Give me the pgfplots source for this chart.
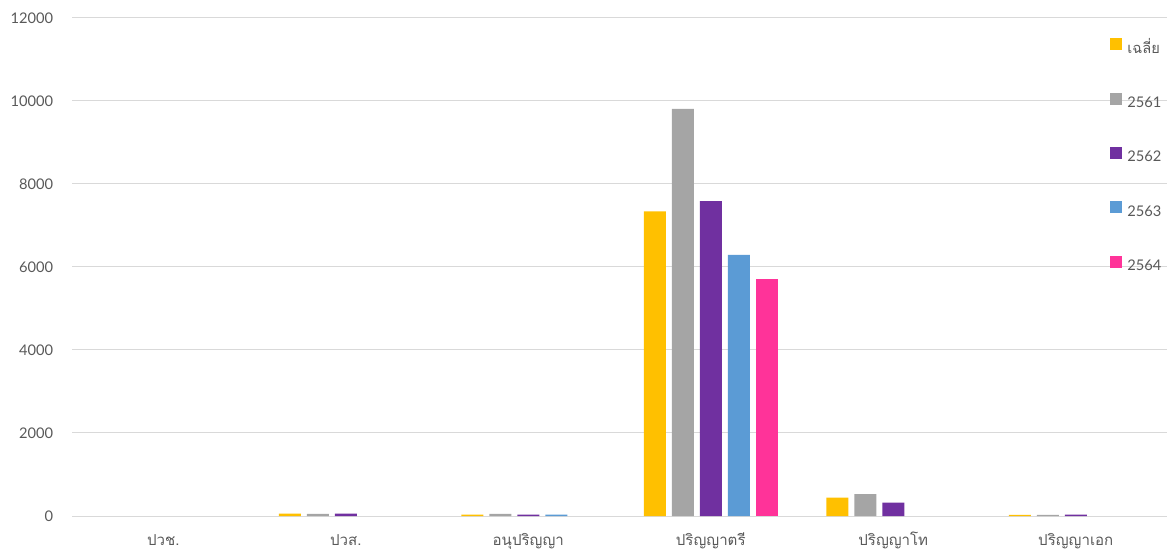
\documentclass[border=0pt]{standalone}
\usepackage{fontspec}
\setmainfont{Lato}
\newfontfamily\thaifont[Script=Thai]{Loma}
\usepackage{pgfplots}
\pgfplotsset{compat=1.18}
\usetikzlibrary{calc}

\definecolor{cYellow}{HTML}{FFC000}
\definecolor{cGray}{HTML}{A5A5A5}
\definecolor{cPurple}{HTML}{7030A0}
\definecolor{cBlue}{HTML}{5B9BD5}
\definecolor{cPink}{HTML}{FF3399}
\definecolor{txtgray}{HTML}{595959}
\definecolor{gridgray}{HTML}{D9D9D9}

\begin{document}
\begin{tikzpicture}
\begin{axis}[
  scale only axis,
  width=821.25pt, height=373.5pt,
  xmin=-0.5, xmax=5.5,
  ymin=0, ymax=12000,
  ybar=4.5pt, bar width=16.5pt,
  xtick={0,1,2,3,4,5},
  xticklabels={ปวช., ปวส., อนุปริญญา, ปริญญาตรี, ปริญญาโท, ปริญญาเอก},
  ytick={0,2000,...,12000},
  scaled y ticks=false,
  /pgf/number format/assume math mode=true,
  yticklabel={\pgfmathprintnumber[fixed,precision=0,1000 sep={}]{\tick}},
  ymajorgrids,
  grid style={gridgray, line width=0.75pt},
  axis line style={draw=none},
  major tick length=0pt,
  tick style={draw=none},
  xticklabel style={font=\thaifont\fontsize{11.3}{13}\selectfont, text=txtgray, anchor=base, yshift=-21.75pt, inner sep=0pt},
  yticklabel style={font=\fontsize{11}{13}\selectfont, text=txtgray, anchor=east, inner sep=0pt, xshift=-14pt},
  legend image code/.code={\fill[#1] (0pt,-0.75pt) rectangle (9pt,8.25pt);},
  legend cell align=left,
  legend style={at={(0.948,0.96)}, anchor=north west, draw=none, fill=none,
    inner sep=0pt, row sep=27.5pt, column sep=3.75pt,
    nodes={inner sep=0pt, text height=8pt, text depth=2pt, text=txtgray, font=\fontsize{11}{13}\selectfont}},
]
\coordinate (SW) at (rel axis cs:0,0);
\coordinate (NE) at (rel axis cs:1,1);
% average, then one series per academic year (empty categories left out)
\addplot[fill=cYellow, draw=none] coordinates {(1,55) (2,35) (3,7340) (4,440) (5,30)};
\addplot[fill=cGray, draw=none] coordinates {(1,50) (2,50) (3,9810) (4,525) (5,30)};
\addplot[fill=cPurple, draw=none] coordinates {(1,55) (2,35) (3,7590) (4,325) (5,35)};
\addplot[fill=cBlue, draw=none] coordinates {(2,35) (3,6290)};
\addplot[fill=cPink, draw=none] coordinates {(3,5710)};
\legend{{\thaifont เฉลี่ย}, 2561, 2562, 2563, 2564}
\end{axis}
\pgfresetboundingbox
\path ($(SW)+(-54pt,-30pt)$) rectangle ($(NE)+(0.75pt,13.5pt)$);
\end{tikzpicture}
\end{document}
